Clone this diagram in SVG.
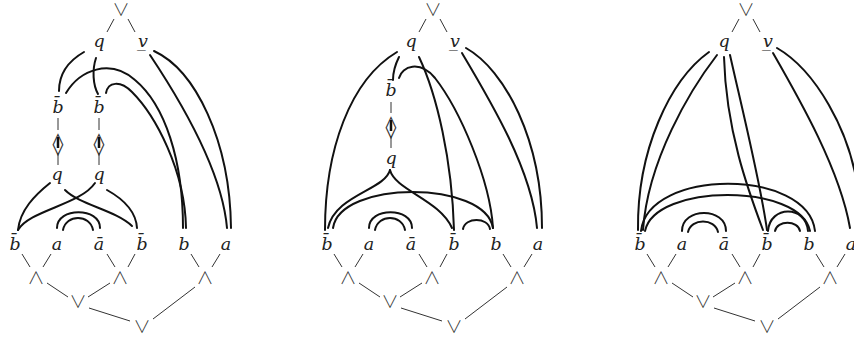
<svg xmlns="http://www.w3.org/2000/svg" width="854" height="337" viewBox="0 0 854 337">
<style>
.m{font-family:"DejaVu Serif","Liberation Serif",serif;font-style:italic;font-size:17.5px;text-anchor:middle;fill:#222}
.op{font-family:"Noto Sans CJK JP","DejaVu Sans",sans-serif;font-weight:300;font-size:17px;text-anchor:middle;fill:#333}
.dm{font-family:"DejaVu Sans",sans-serif;font-size:22px;text-anchor:middle;fill:#333}
.w{fill:none;stroke:#111;stroke-width:2;stroke-linecap:round}
.t{fill:none;stroke:#333;stroke-width:1}
.bar{stroke:#111;stroke-width:2.5}
</style>
<rect width="854" height="337" fill="#fff"/>
<!-- Diagram 1 -->
<g id="d1">
  <g id="d1-nodes">
    <g id="d1-top"><text class="op" x="121" y="16">∨</text></g>
    <g id="d1-q"><text class="m" x="99" y="47">q</text></g>
    <g id="d1-v"><text class="m" x="143" y="47">v̲</text></g>
    <g id="d1-b1"><text class="m" x="58" y="113">b̄</text></g>
    <g id="d1-b2"><text class="m" x="99" y="113">b̄</text></g>
    <g id="d1-dia1"><text class="dm" x="58" y="151">◊</text><line class="bar" x1="58" y1="137" x2="58" y2="148"/></g>
    <g id="d1-dia2"><text class="dm" x="99" y="151">◊</text><line class="bar" x1="99" y1="137" x2="99" y2="148"/></g>
    <g id="d1-q1"><text class="m" x="57" y="180">q</text></g>
    <g id="d1-q2"><text class="m" x="99" y="180">q</text></g>
    <g id="d1-l1"><text class="m" x="15" y="250">b̄</text></g>
    <g id="d1-l2"><text class="m" x="57" y="250">a</text></g>
    <g id="d1-l3"><text class="m" x="99" y="250">ā</text></g>
    <g id="d1-l4"><text class="m" x="142" y="250">b̄</text></g>
    <g id="d1-l5"><text class="m" x="184" y="250">b</text></g>
    <g id="d1-l6"><text class="m" x="226" y="250">a</text></g>
    <g id="d1-and1"><text class="op" x="36" y="284">∧</text></g>
    <g id="d1-and2"><text class="op" x="120" y="284">∧</text></g>
    <g id="d1-and3"><text class="op" x="205" y="284">∧</text></g>
    <g id="d1-or1"><text class="op" x="78" y="308">∨</text></g>
    <g id="d1-or2"><text class="op" x="142" y="333">∨</text></g>
  </g>
  <g id="d1-connectors">
    <path class="t" d="M114,19L107,32M128,19L135,32M58,118V130M58,153V165M99,118V130M99,153V165M22,254L30,267M51,254L43,267M107,254L115,267M135,254L128,267M191,254L199,267M220,254L212,267M47,283L68,297M110,283L88,297M89,308L130,321M195,287L153,319"/>
    <path class="w" d="M84,52C70,60 59,72 59,91"/>
    <path class="w" d="M96,58C92,70 93,85 98,94"/>
    <path class="w" d="M66,93C80,70 110,58 135,80C165,105 183,160 183,228"/>
    <path class="w" d="M106,93C108,82 120,80 132,92C155,115 185,170 186,228"/>
    <path class="w" d="M150,55C180,100 222,170 227,228"/>
    <path class="w" d="M154,51C195,70 230,140 231,228"/>
    <path class="w" d="M50,183C35,195 20,210 18,230"/>
    <path class="w" d="M65,190C80,205 115,210 132,226"/>
    <path class="w" d="M95,183C80,205 30,210 18,230"/>
    <path class="w" d="M107,190C125,200 136,212 137,228"/>
    <path class="w" d="M57,228C57,207 100,207 100,228"/>
    <path class="w" d="M63,230C66,214 90,214 93,230"/>
  </g>
</g>
<!-- Diagram 2 -->
<g id="d2">
  <g id="d2-nodes">
    <g id="d2-top"><text class="op" x="433" y="16">∨</text></g>
    <g id="d2-q"><text class="m" x="411" y="47">q</text></g>
    <g id="d2-v"><text class="m" x="455" y="47">v̲</text></g>
    <g id="d2-b1"><text class="m" x="391" y="96">b̄</text></g>
    <g id="d2-dia"><text class="dm" x="391" y="134">◊</text><line class="bar" x1="391" y1="120" x2="391" y2="131"/></g>
    <g id="d2-q1"><text class="m" x="391" y="164">q</text></g>
    <g id="d2-l1"><text class="m" x="327" y="250">b̄</text></g>
    <g id="d2-l2"><text class="m" x="369" y="250">a</text></g>
    <g id="d2-l3"><text class="m" x="411" y="250">ā</text></g>
    <g id="d2-l4"><text class="m" x="454" y="250">b̄</text></g>
    <g id="d2-l5"><text class="m" x="496" y="250">b</text></g>
    <g id="d2-l6"><text class="m" x="538" y="250">a</text></g>
    <g id="d2-and1"><text class="op" x="348" y="284">∧</text></g>
    <g id="d2-and2"><text class="op" x="432" y="284">∧</text></g>
    <g id="d2-and3"><text class="op" x="517" y="284">∧</text></g>
    <g id="d2-or1"><text class="op" x="390" y="308">∨</text></g>
    <g id="d2-or2"><text class="op" x="454" y="333">∨</text></g>
  </g>
  <g id="d2-connectors">
    <path class="t" d="M426,19L419,32M440,19L447,32M391,102V113M391,136V148M334,254L342,267M363,254L355,267M419,254L427,267M447,254L440,267M503,254L511,267M532,254L524,267M359,283L380,297M422,283L400,297M401,308L442,321M507,287L465,319"/>
    <path class="w" d="M397,52C350,80 325,150 325,230"/>
    <path class="w" d="M399,57C395,65 393,72 393,80"/>
    <path class="w" d="M419,57C437,95 452,160 454,230"/>
    <path class="w" d="M399,78C402,66 420,60 435,78C460,110 490,180 493,228"/>
    <path class="w" d="M462,53C490,100 532,170 537,228"/>
    <path class="w" d="M466,48C505,70 542,140 542,228"/>
    <path class="w" d="M390,170C385,190 335,195 328,228"/>
    <path class="w" d="M390,170C395,190 440,200 452,228"/>
    <path class="w" d="M333,228C340,180 485,180 493,228"/>
    <path class="w" d="M463,229C465,217 488,217 490,229"/>
    <path class="w" d="M369,228C369,207 412,207 412,228"/>
    <path class="w" d="M375,230C378,214 402,214 405,230"/>
  </g>
</g>
<!-- Diagram 3 -->
<g id="d3">
  <g id="d3-nodes">
    <g id="d3-top"><text class="op" x="746" y="16">∨</text></g>
    <g id="d3-q"><text class="m" x="724" y="47">q</text></g>
    <g id="d3-v"><text class="m" x="768" y="47">v̲</text></g>
    <g id="d3-l1"><text class="m" x="640" y="250">b̄</text></g>
    <g id="d3-l2"><text class="m" x="682" y="250">a</text></g>
    <g id="d3-l3"><text class="m" x="724" y="250">ā</text></g>
    <g id="d3-l4"><text class="m" x="767" y="250">b̄</text></g>
    <g id="d3-l5"><text class="m" x="809" y="250">b</text></g>
    <g id="d3-l6"><text class="m" x="851" y="250">a</text></g>
    <g id="d3-and1"><text class="op" x="661" y="284">∧</text></g>
    <g id="d3-and2"><text class="op" x="745" y="284">∧</text></g>
    <g id="d3-and3"><text class="op" x="830" y="284">∧</text></g>
    <g id="d3-or1"><text class="op" x="703" y="308">∨</text></g>
    <g id="d3-or2"><text class="op" x="767" y="333">∨</text></g>
  </g>
  <g id="d3-connectors">
    <path class="t" d="M739,19L732,32M753,19L760,32M647,254L655,267M676,254L668,267M732,254L740,267M760,254L753,267M816,254L824,267M845,254L837,267M672,283L693,297M735,283L713,297M714,308L755,321M820,287L778,319"/>
    <path class="w" d="M709,52C670,80 637,150 638,230"/>
    <path class="w" d="M717,55C690,90 648,160 643,230"/>
    <path class="w" d="M724,57C726,130 748,190 763,230"/>
    <path class="w" d="M730,55C740,100 760,180 767,230"/>
    <path class="w" d="M773,53C800,100 840,170 850,228"/>
    <path class="w" d="M777,48C815,70 850,130 858,190"/>
    <path class="w" d="M641,231C648,168 808,168 815,231"/>
    <path class="w" d="M645,231C655,183 800,183 810,231"/>
    <path class="w" d="M768,231C770,205 806,205 808,231"/>
    <path class="w" d="M775,231C777,220 798,220 800,231"/>
    <path class="w" d="M682,231C682,207 726,207 726,231"/>
    <path class="w" d="M688,232C691,218 715,218 718,232"/>
  </g>
</g>
</svg>
